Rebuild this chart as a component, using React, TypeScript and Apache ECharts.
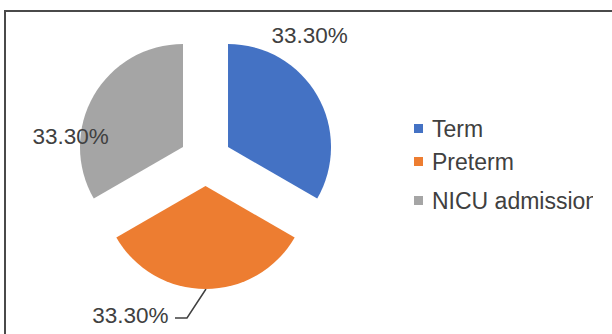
import React, { useEffect, useRef } from "react";
import * as echarts from "echarts";

const categories = ["Term", "Preterm", "NICU admission"];
const values = [33.3, 33.3, 33.3];
const colors = ["#4472C4", "#ED7D31", "#A5A5A5"];

export default function App() {
  const ref = useRef<HTMLDivElement>(null);
  useEffect(() => {
    const chart = echarts.init(ref.current as HTMLDivElement, null, { renderer: "svg" });
    const cx = 205.5;
    const cy = 160;
    const r = 103;
    const explode = 26;
    const font = "'Liberation Sans', Arial, sans-serif";
    const textColor = "#404040";
    const legendCenters = [130, 163, 202];
    const total = values.reduce((a, b) => a + b, 0);

    // label placement (relative to the unexploded pie centre), per slice
    const labelPlace: any[] = [
      { dx: 66, dy: -125, align: "left" },
      {
        dx: -37,
        dy: 155,
        align: "right",
        line: [
          [0.5, 129],
          [-18.5, 158],
          [-30.5, 158],
        ],
      },
      { dx: -173, dy: -24, align: "left" },
    ];

    let cum = 0;
    const series = categories.map((_, i) => {
      const mid = (2 * Math.PI * (cum + values[i] / 2)) / total;
      cum += values[i];
      const ox = explode * Math.sin(mid);
      const oy = -explode * Math.cos(mid);
      const place = labelPlace[i];
      return {
        type: "pie",
        center: [cx + ox, cy + oy],
        radius: r,
        startAngle: 90,
        clockwise: true,
        silent: true,
        avoidLabelOverlap: false,
        emphasis: { disabled: true },
        data: categories.map((name, j) => ({
          name,
          value: values[j],
          itemStyle: j === i ? { color: colors[j] } : { color: "rgba(0,0,0,0)" },
          label: { show: j === i },
          labelLine: { show: j === i && !!place.line },
        })),
        label: {
          show: true,
          formatter: (p: any) => `${Number(p.value).toFixed(2)}%`,
          fontFamily: font,
          fontSize: 22.5,
          color: textColor,
        },
        labelLine: { show: true, lineStyle: { color: textColor, width: 1.5 } },
        labelLayout: (p: any) => {
          if (p.dataIndex !== i) return {};
          const res: any = {
            x: cx + place.dx,
            y: cy + place.dy,
            align: place.align,
            verticalAlign: "middle",
          };
          if (place.line) {
            res.labelLinePoints = place.line.map((pt: number[]) => [cx + pt[0], cy + pt[1]]);
          }
          return res;
        },
      };
    });

    chart.setOption({
      animation: false,
      legend: categories.map((name, i) => ({
        data: [{ name, itemStyle: { color: colors[i] } }],
        left: 414,
        top: legendCenters[i] - 13,
        padding: 0,
        orient: "vertical",
        icon: "rect",
        itemWidth: 9,
        itemHeight: 9,
        itemGap: 0,
        selectedMode: false,
        textStyle: { fontFamily: font, fontSize: 23, color: textColor, padding: [0, 0, 0, 4] },
      })),
      series,
    });
    return () => chart.dispose();
  }, []);

  return (
    <div
      style={{
        position: "fixed",
        left: 0,
        top: 0,
        width: 612,
        height: 334,
        overflow: "hidden",
        background: "#fff",
      }}
    >
      <div
        style={{
          position: "absolute",
          left: 4,
          top: 10,
          width: 640,
          height: 360,
          borderTop: "2px solid #4a4a4a",
          borderLeft: "2px solid #4a4a4a",
        }}
      />
      <div ref={ref} style={{ position: "absolute", left: 0, top: 0, width: 593, height: 334 }} />
    </div>
  );
}
